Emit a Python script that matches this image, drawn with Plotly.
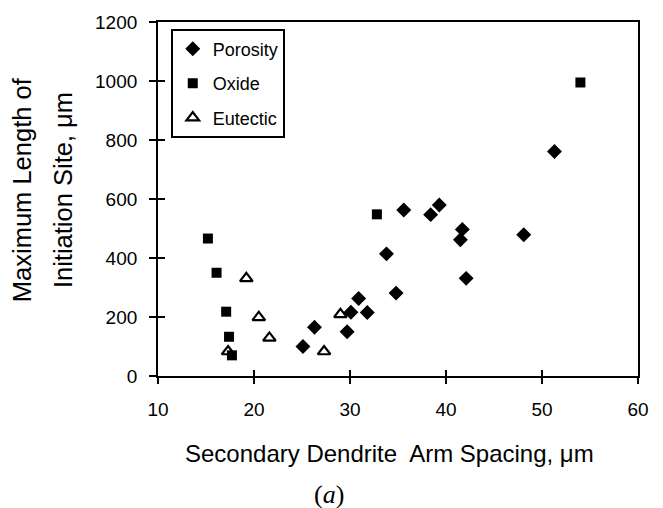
import plotly.graph_objects as go

# Secondary dendrite arm spacing (µm) vs. maximum initiation-site length (µm)
porosity_x = [25.1, 26.3, 29.7, 30.1, 30.9, 31.8, 33.8, 34.8, 35.6, 38.4, 39.3, 41.7, 41.5, 42.1, 48.1, 51.3]
porosity_y = [100, 165, 150, 216, 263, 215, 414, 281, 563, 547, 580, 497, 462, 331, 479, 761]

oxide_x = [15.2, 16.1, 17.1, 17.4, 17.7, 32.8, 54.0]
oxide_y = [466, 350, 218, 133, 70, 548, 995]

eutectic_x = [17.3, 19.2, 20.5, 21.6, 27.3, 29.0]
eutectic_y = [83, 331, 199, 129, 83, 209]

x_ticks = [10, 20, 30, 40, 50, 60]
y_ticks = [0, 200, 400, 600, 800, 1000, 1200]

FONT = "Arial, Liberation Sans, sans-serif"

fig = go.Figure()
fig.add_trace(go.Scatter(x=porosity_x, y=porosity_y, mode="markers", name="Porosity",
                         legendgroup="p",
                         marker=dict(symbol="diamond", size=11.5, color="black")))
fig.add_trace(go.Scatter(x=oxide_x, y=oxide_y, mode="markers", name="Oxide",
                         legendgroup="o",
                         marker=dict(symbol="square", size=10, color="black")))
fig.add_trace(go.Scatter(x=eutectic_x, y=eutectic_y, mode="markers", name="Eutectic",
                         legendgroup="e",
                         marker=dict(symbol="triangle-up-open", size=11, color="black",
                                     line=dict(width=2.2, color="black"))))
# empty trace hosting the overlay axes that carry the inner half of the ticks
fig.add_trace(go.Scatter(x=[None], y=[None], xaxis="x2", yaxis="y2",
                         showlegend=False, hoverinfo="skip"))

axis_common = dict(showgrid=False, zeroline=False, color="black",
                   tickfont=dict(family=FONT, size=19, color="black"))

fig.update_layout(
    width=663, height=508,
    margin=dict(l=158, r=25, t=16, b=132),
    paper_bgcolor="white", plot_bgcolor="white",
    font=dict(family=FONT, color="black"),
    xaxis=dict(range=[10, 60], tickvals=x_ticks, ticks="outside", ticklen=6, tickwidth=1.8,
               showline=True, linewidth=1.8, linecolor="black", mirror=True,
               ticklabelstandoff=9, **axis_common),
    yaxis=dict(range=[0, 1200], tickvals=y_ticks, ticks="outside", ticklen=7, tickwidth=1.8,
               showline=True, linewidth=1.8, linecolor="black", mirror=True,
               ticklabelstandoff=8, **axis_common),
    xaxis2=dict(range=[10, 60], tickvals=x_ticks, ticks="inside", ticklen=6, tickwidth=1.8,
                overlaying="x", anchor="y2", side="bottom", showticklabels=False,
                showline=False, showgrid=False, zeroline=False, tickcolor="black"),
    yaxis2=dict(range=[0, 1200], tickvals=y_ticks, ticks="inside", ticklen=7, tickwidth=1.8,
                overlaying="y", anchor="x2", side="left", showticklabels=False,
                showline=False, showgrid=False, zeroline=False, tickcolor="black"),
    legend=dict(x=0.027, y=0.981, xanchor="left", yanchor="top",
                bgcolor="white", bordercolor="black", borderwidth=1.8,
                font=dict(family=FONT, size=18, color="black"),
                traceorder="grouped", tracegroupgap=8,
                entrywidth=112, entrywidthmode="pixels",
                itemsizing="trace"),
    showlegend=True,
)

annotations = [
    dict(text="Secondary Dendrite\u00a0 Arm Spacing, \u03bcm", x=0.483, y=-0.22,
         xref="paper", yref="paper", showarrow=False, xanchor="center", yanchor="middle",
         font=dict(family=FONT, size=24, color="black")),
    dict(text="(<i>a</i>)", x=0.356, y=-0.336, xref="paper", yref="paper",
         showarrow=False, xanchor="center", yanchor="middle",
         font=dict(family="Liberation Serif, Times New Roman, serif", size=26, color="black")),
    dict(text="Maximum Length of", x=-0.2833, y=0.525, xref="paper", yref="paper",
         showarrow=False, textangle=-90, xanchor="center", yanchor="middle",
         font=dict(family=FONT, size=25.5, color="black")),
    dict(text="Initiation Site, \u03bcm", x=-0.198, y=0.525, xref="paper", yref="paper",
         showarrow=False, textangle=-90, xanchor="center", yanchor="middle",
         font=dict(family=FONT, size=25.5, color="black")),
]
fig.update_layout(annotations=annotations)

fig.write_html("out.html")
